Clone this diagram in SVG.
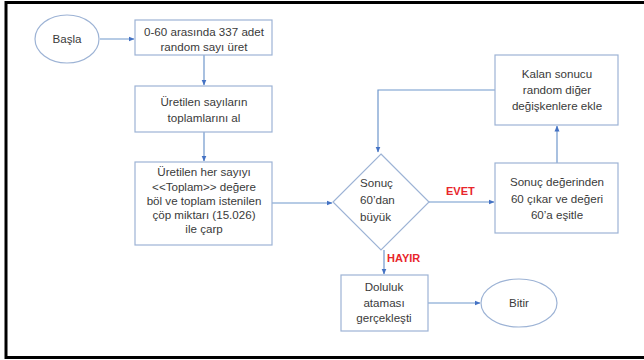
<svg xmlns="http://www.w3.org/2000/svg" width="644" height="360" viewBox="0 0 644 360">
<defs>
<style>
.box{fill:#fff;stroke:#9db3d5;stroke-width:1.2}
.t{font-family:"Liberation Sans",Arial,sans-serif;font-size:11.6px;fill:#3a3a3a;text-anchor:middle}
.c{fill:none;stroke:#6f97cc;stroke-width:1.2}
.lbl{font-family:"Liberation Sans",Arial,sans-serif;font-size:11px;font-weight:bold;fill:#e8262b}
</style>
<marker id="ah" viewBox="0 0 6 6" refX="5.5" refY="3" markerWidth="5" markerHeight="5" orient="auto">
<path d="M0,0.5 L6,3 L0,5.5 Z" fill="#4472c4"/>
</marker>
</defs>
<rect x="0" y="0" width="644" height="360" fill="#fff"/>
<path d="M660,2.5 H6 V357.5 H660" fill="none" stroke="#000" stroke-width="3"/>
<g id="connectors">
<path class="c" d="M100,39 H134" marker-end="url(#ah)"/>
<path class="c" d="M204,55 V85" marker-end="url(#ah)"/>
<path class="c" d="M204,132 V161" marker-end="url(#ah)"/>
<path class="c" d="M272,203 H332" marker-end="url(#ah)"/>
<path class="c" d="M429,202 H494" marker-end="url(#ah)"/>
<path class="c" d="M557,163 V126" marker-end="url(#ah)"/>
<path class="c" d="M495,90 H378 V152" marker-end="url(#ah)"/>
<path class="c" d="M384,250 V274" marker-end="url(#ah)"/>
<path class="c" d="M428,303 H480" marker-end="url(#ah)"/>
<text class="lbl" x="446" y="195">EVET</text>
<text class="lbl" x="387" y="262">HAYIR</text>
</g>
<g id="basla">
<ellipse class="box" cx="67" cy="39" rx="32" ry="24"/>
<text class="t" x="67" y="43">Başla</text>
</g>
<g id="uret">
<rect class="box" x="135" y="20" width="137" height="35"/>
<text class="t" x="204" y="36">0-60 arasında 337 adet</text>
<text class="t" x="204" y="51">random sayı üret</text>
</g>
<g id="toplam">
<rect class="box" x="135" y="86" width="137" height="46"/>
<text class="t" x="204" y="106">Üretilen sayıların</text>
<text class="t" x="204" y="122">toplamlarını al</text>
</g>
<g id="bol">
<rect class="box" x="135" y="162" width="137" height="83"/>
<text class="t" x="204" y="176">Üretilen her sayıyı</text>
<text class="t" x="204" y="191">&lt;&lt;Toplam&gt;&gt; değere</text>
<text class="t" x="204" y="205">böl ve toplam istenilen</text>
<text class="t" x="204" y="219">çöp miktarı (15.026)</text>
<text class="t" x="204" y="233">ile çarp</text>
</g>
<g id="karar">
<path class="box" d="M381,154 L429,202 L381,250 L333,202 Z"/>
<text class="t" x="360" y="187" style="text-anchor:start">Sonuç</text>
<text class="t" x="360" y="204" style="text-anchor:start">60’dan</text>
<text class="t" x="360" y="221" style="text-anchor:start">büyük</text>
</g>
<g id="cikar">
<rect class="box" x="495" y="163" width="123" height="70"/>
<text class="t" x="557" y="186">Sonuç değerinden</text>
<text class="t" x="557" y="203">60 çıkar ve değeri</text>
<text class="t" x="557" y="219">60’a eşitle</text>
</g>
<g id="kalan">
<rect class="box" x="495" y="55" width="123" height="70"/>
<text class="t" x="557" y="78">Kalan sonucu</text>
<text class="t" x="557" y="94">random diğer</text>
<text class="t" x="557" y="110">değişkenlere ekle</text>
</g>
<g id="doluluk">
<rect class="box" x="341" y="275" width="87" height="56"/>
<text class="t" x="384" y="291">Doluluk</text>
<text class="t" x="384" y="307">ataması</text>
<text class="t" x="384" y="322">gerçekleşti</text>
</g>
<g id="bitir">
<ellipse class="box" cx="519" cy="303" rx="38" ry="24"/>
<text class="t" x="519" y="307">Bitir</text>
</g>
</svg>
